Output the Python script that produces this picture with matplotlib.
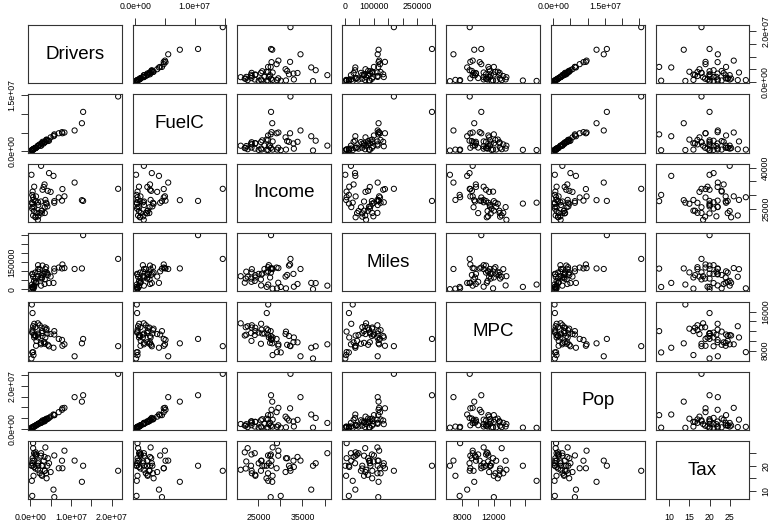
import numpy as np
import matplotlib.pyplot as plt

plt.rcParams['font.family'] = ['Liberation Sans', 'DejaVu Sans']

# fuel consumption by state, 2001
states = ['AL', 'AK', 'AZ', 'AR', 'CA', 'CO', 'CT', 'DE', 'DC', 'FL', 'GA', 'HI', 'ID',
          'IL', 'IN', 'IA', 'KS', 'KY', 'LA', 'ME', 'MD', 'MA', 'MI', 'MN', 'MS', 'MO',
          'MT', 'NE', 'NV', 'NH', 'NJ', 'NM', 'NY', 'NC', 'ND', 'OH', 'OK', 'OR', 'PA',
          'RI', 'SC', 'SD', 'TN', 'TX', 'UT', 'VT', 'VA', 'WA', 'WV', 'WI', 'WY']
drivers = [3559897, 472211, 3550367, 1961883, 21623793, 3287922, 2650374, 563245, 279578,
           12700000, 5900000, 780000, 920000, 7900000, 4000000, 1950000, 1900000, 2750000,
           2800000, 970000, 3500000, 4600000, 7000000, 3000000, 1850000, 3900000, 690000,
           1200000, 1400000, 950000, 5700000, 1250000, 10900000, 5900000, 450000, 7800000,
           2300000, 2600000, 8400000, 680000, 2900000, 550000, 4200000, 13000000, 1500000,
           540000, 5000000, 4300000, 1300000, 3700000, 370000]
fuelc = [2382507, 235400, 2428430, 1358174, 14691753, 2048664, 1470076, 408022, 164909,
         7500000, 4500000, 400000, 660000, 4800000, 3100000, 1500000, 1300000, 2100000,
         2000000, 690000, 2500000, 2800000, 4800000, 2500000, 1450000, 3000000, 500000,
         850000, 900000, 650000, 4000000, 900000, 5550000, 4200000, 330000, 5100000,
         1800000, 1500000, 5000000, 400000, 2100000, 420000, 2900000, 10550000, 950000,
         340000, 3700000, 2700000, 800000, 2600000, 280000]
income = [23471, 30064, 25578, 22257, 32275, 32949, 40640, 31255, 37383, 28145, 27790,
          28221, 24180, 32187, 26838, 26376, 27374, 24294, 23334, 25623, 33872, 37992,
          29127, 31935, 20993, 27186, 22569, 27829, 29506, 33042, 36983, 22134, 34547,
          27194, 25068, 27977, 23517, 27660, 29539, 29214, 24321, 25720, 25878, 27871,
          23436, 26901, 31162, 31528, 21915, 28232, 27230]
miles = [94440, 13628, 55245, 98132, 168771, 85854, 20847, 5855, 1507, 116000, 115000,
         4300, 47000, 138000, 94000, 113000, 134000, 79000, 60000, 22000, 30000, 35000,
         121000, 132000, 73000, 123000, 70000, 93000, 37000, 15000, 36000, 60000, 113000,
         100000, 86000, 116000, 112000, 66000, 118000, 6000, 66000, 83000, 88000, 300000,
         42000, 14000, 71000, 80000, 37000, 112000, 27000]
mpc = [12737, 7639, 9412, 11268, 8924, 9723, 9300, 11900, 6400, 9500, 12000, 7100, 11200,
       9000, 12500, 11500, 10700, 12700, 11600, 13500, 9700, 8900, 10400, 11000, 13600,
       12200, 13000, 11000, 9000, 10700, 8600, 12800, 6850, 11300, 11700, 10200, 13200,
       9600, 9300, 7700, 12000, 12300, 11500, 10400, 10000, 15700, 11400, 9200, 11100,
       10700, 17450]
pop = [3451586, 457728, 3907526, 2072622, 25599275, 3322455, 2651316, 614000, 461000,
       12600000, 6300000, 950000, 970000, 9500000, 4650000, 2250000, 2080000, 3150000,
       3300000, 1000000, 4100000, 5000000, 7700000, 3800000, 2150000, 4300000, 710000,
       1330000, 1560000, 980000, 6600000, 1380000, 14700000, 6300000, 500000, 8800000,
       2700000, 2700000, 9700000, 830000, 3150000, 580000, 4400000, 15600000, 1600000,
       480000, 5600000, 4700000, 1440000, 4200000, 380000]
tax = [18.0, 8.0, 18.0, 21.7, 18.0, 22.0, 25.0, 23.0, 20.0, 13.6, 7.5, 16.0, 25.0, 19.0,
       15.0, 20.0, 21.0, 16.4, 20.0, 22.0, 23.5, 21.0, 19.0, 20.0, 18.4, 17.0, 27.0, 24.5,
       24.0, 19.5, 10.5, 18.9, 22.05, 24.1, 21.0, 22.0, 17.0, 24.0, 26.0, 29.0, 16.0, 22.0,
       20.0, 20.0, 24.5, 20.0, 17.5, 23.0, 25.35, 27.3, 14.0]

names = ['Drivers', 'FuelC', 'Income', 'Miles', 'MPC', 'Pop', 'Tax']
columns = [drivers, fuelc, income, miles, mpc, pop, tax]

# tick positions, plus the labels that fit on the horizontal and vertical axes
ticks = [[0, 5e6, 1e7, 1.5e7, 2e7],
         [0, 5e6, 1e7, 1.5e7],
         [25000, 30000, 35000, 40000],
         [0, 50000, 100000, 150000, 200000, 250000, 300000],
         [8000, 10000, 12000, 14000, 16000],
         [0, 5e6, 1e7, 1.5e7, 2e7, 2.5e7],
         [10, 15, 20, 25]]
xlabels = [['0.0e+00', '', '1.0e+07', '', '2.0e+07'],
           ['0.0e+00', '', '1.0e+07', ''],
           ['25000', '', '35000', ''],
           ['0', '', '100000', '', '', '250000', ''],
           ['8000', '', '12000', '', ''],
           ['0.0e+00', '', '', '1.5e+07', '', ''],
           ['10', '15', '20', '25']]
ylabels = [['0.0e+00', '', '', '', '2.0e+07'],
           ['0.0e+00', '', '', '1.5e+07'],
           ['25000', '', '', '40000'],
           ['0', '', '', '150000', '', '', ''],
           ['8000', '', '', '', '16000'],
           ['0.0e+00', '', '', '', '2.0e+07', ''],
           ['10', '', '20', '']]

n = len(names)
fig, axes = plt.subplots(n, n, figsize=(7.7, 5.22), dpi=100,
                         gridspec_kw=dict(left=28/770, right=749.3/770,
                                          top=1-25/522, bottom=1-499.3/522,
                                          wspace=0.1175, hspace=0.189))

def lims(v):
    v = np.asarray(v, dtype=float)
    r = v.max() - v.min()
    return v.min() - 0.04*r, v.max() + 0.04*r

for i in range(n):
    for j in range(n):
        ax = axes[i, j]
        ax.set_xlim(lims(columns[j]))
        ax.set_ylim(lims(columns[i]))
        if i == j:
            ax.text(0.5, 0.5, names[i], transform=ax.transAxes,
                    ha='center', va='center', fontsize=13.5)
        else:
            ax.scatter(columns[j], columns[i], s=14, facecolors='none',
                       edgecolors='black', linewidths=0.7)
        for s in ax.spines.values():
            s.set_linewidth(0.8)
            s.set_color('#333333')
        ax.set_xticks([])
        ax.set_yticks([])

        # R puts the axes on alternating sides of the matrix
        if (i == n-1 and j % 2 == 0) or (i == 0 and j % 2 == 1):
            ax.set_xticks(ticks[j])
            ax.set_xticklabels(xlabels[j])
            if i == 0:
                ax.xaxis.tick_top()
            ax.tick_params(axis='x', length=5, width=0.7, labelsize=6.3, pad=5,
                           color='#333333')
        if (j == n-1 and i % 2 == 0) or (j == 0 and i % 2 == 1):
            ax.set_yticks(ticks[i])
            ax.set_yticklabels(ylabels[i], rotation=90, va='center')
            if j == n-1:
                ax.yaxis.tick_right()
            ax.tick_params(axis='y', length=5, width=0.7, labelsize=6.3, pad=3.5,
                           color='#333333')

fig.savefig('out.png', dpi=100)
